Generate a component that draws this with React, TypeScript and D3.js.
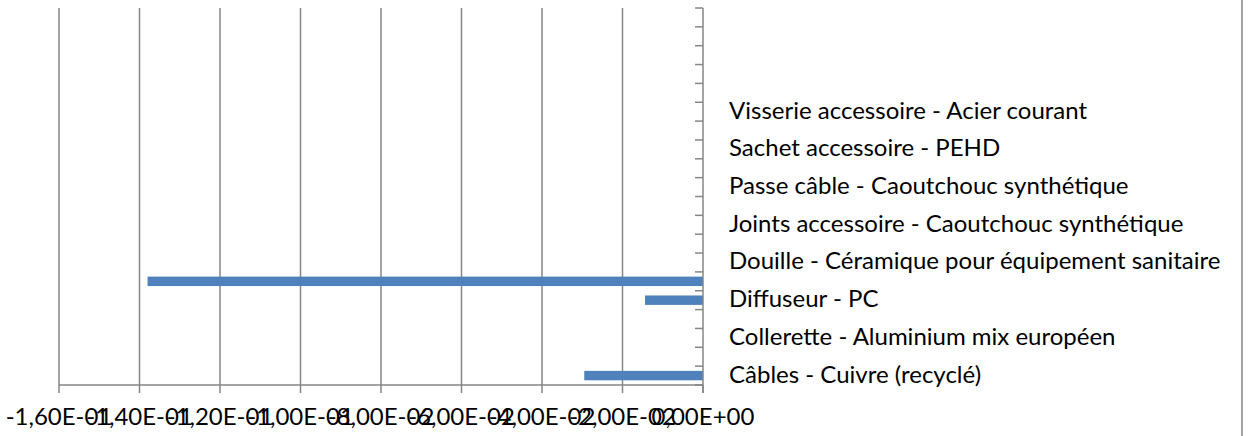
import React, { useRef, useEffect } from 'react';
import * as d3 from 'd3';

// categories from bottom (first) to top, Excel shows every other label
const categories = [
  'Câbles - Cuivre (recyclé)', '',
  'Collerette - Aluminium mix européen', '',
  'Diffuseur - PC', '',
  'Douille - Céramique pour équipement sanitaire', '',
  'Joints accessoire - Caoutchouc synthétique', '',
  'Passe câble - Caoutchouc synthétique', '',
  'Sachet accessoire - PEHD', '',
  'Visserie accessoire - Acier courant', '',
  '', '', '', ''
];
const values = [-0.0295, 0, 0, 0, -0.0144, -0.138, 0, 0, 0, 0, 0, 0, 0, 0, 0, 0, 0, 0, 0, 0];
const xDomain = [-0.16, 0];

const W = 1250;
const H = 436;
const FONT = 'Lato, "Open Sans", sans-serif';
const GRID = '#868686';

const fmt = (v: number) => {
  if (Math.abs(v) < 1e-12) return '0,00E+00';
  const [m, e] = v.toExponential(2).split('e');
  const ex = parseInt(e, 10);
  const sign = ex < 0 ? '-' : '+';
  return `${m.replace('.', ',')}E${sign}${String(Math.abs(ex)).padStart(2, '0')}`;
};

const App = () => {
  const ref = useRef<SVGSVGElement>(null);

  useEffect(() => {
    const margin = { top: 8, left: 59, right: W - 703, bottom: H - 385 };
    const width = W - margin.left - margin.right;
    const height = H - margin.top - margin.bottom;

    const svg = d3.select(ref.current);
    svg.selectAll('*').remove();

    const g = svg.append('g').attr('transform', `translate(${margin.left},${margin.top})`);

    const x = d3.scaleLinear().domain(xDomain).range([0, width]);
    const y = d3.scaleBand<number>()
      .domain(d3.range(categories.length))
      .range([height, 0])
      .paddingInner(0.5)
      .paddingOuter(0.25);
    const step = height / categories.length;

    const ticks = x.ticks(8);

    // gridlines
    g.selectAll('line.grid')
      .data(ticks.filter(t => t !== 0))
      .enter().append('line')
      .attr('x1', d => x(d)).attr('x2', d => x(d))
      .attr('y1', 0).attr('y2', height)
      .attr('stroke', GRID).attr('stroke-width', 1.5);

    // bars
    g.selectAll('rect')
      .data(values)
      .enter().append('rect')
      .attr('x', d => x(Math.min(0, d)))
      .attr('width', d => Math.abs(x(d) - x(0)))
      .attr('y', (d, i) => y(i)!)
      .attr('height', y.bandwidth())
      .attr('fill', '#4F81BD');

    // x axis
    g.append('line')
      .attr('x1', 0).attr('x2', width)
      .attr('y1', height).attr('y2', height)
      .attr('stroke', GRID).attr('stroke-width', 1.5);
    g.selectAll('line.xtick')
      .data(ticks)
      .enter().append('line')
      .attr('x1', d => x(d)).attr('x2', d => x(d))
      .attr('y1', height).attr('y2', height + 8)
      .attr('stroke', GRID).attr('stroke-width', 1.5);
    g.selectAll('text.xlab')
      .data(ticks)
      .enter().append('text')
      .attr('x', d => x(d))
      .attr('y', height + 40)
      .attr('text-anchor', 'middle')
      .attr('font-family', FONT)
      .attr('font-size', 24)
      .attr('fill', '#000')
      .text(d => fmt(d));

    // y axis at zero
    g.append('line')
      .attr('x1', x(0)).attr('x2', x(0))
      .attr('y1', 0).attr('y2', height + 8)
      .attr('stroke', GRID).attr('stroke-width', 1.5);
    g.selectAll('line.ytick')
      .data(d3.range(categories.length + 1))
      .enter().append('line')
      .attr('x1', x(0) - 8).attr('x2', x(0))
      .attr('y1', d => height - d * step).attr('y2', d => height - d * step)
      .attr('stroke', GRID).attr('stroke-width', 1.5);

    g.selectAll('text.ylab')
      .data(categories)
      .enter().append('text')
      .attr('x', x(0) + 26)
      .attr('y', (d, i) => height - (i + 0.5) * step + 7)
      .attr('font-family', FONT)
      .attr('font-size', 24)
      .attr('fill', '#000')
      .text(d => d);

    // chart border, only right edge visible
    svg.append('line')
      .attr('x1', 1242).attr('x2', 1242)
      .attr('y1', 0).attr('y2', H)
      .attr('stroke', GRID).attr('stroke-width', 1.5);
  }, []);

  return (
    <svg
      ref={ref}
      width={W}
      height={H}
      style={{ position: 'absolute', left: 0, top: 0, background: '#fff' }}
    />
  );
};

export default App;
